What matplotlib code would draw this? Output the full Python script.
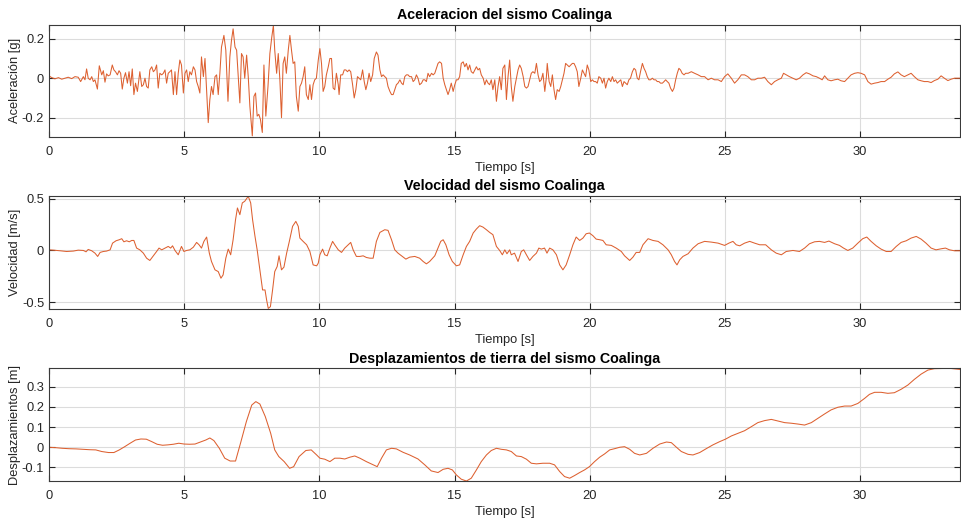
import matplotlib
matplotlib.use("Agg")
import matplotlib.pyplot as plt

plt.rcParams['font.family'] = ['Liberation Sans', 'DejaVu Sans']
plt.rcParams['font.size'] = 9
plt.rcParams['axes.unicode_minus'] = False

# Registro del sismo de Coalinga: tiempo [s] y aceleracion [g]
acc_t = [
    0.00, 0.10, 0.22, 0.35, 0.47, 0.59, 0.71, 0.84, 0.96, 1.08,
    1.17, 1.27, 1.33, 1.39, 1.45, 1.52, 1.58, 1.64, 1.70, 1.79,
    1.86, 1.95, 2.01, 2.07, 2.13, 2.19, 2.26, 2.34, 2.40, 2.46,
    2.53, 2.59, 2.65, 2.71, 2.77, 2.83, 2.90, 2.96, 3.02, 3.08,
    3.14, 3.20, 3.27,
    3.36, 3.43, 3.49, 3.55, 3.61, 3.67, 3.73, 3.80, 3.86, 3.92,
    3.98, 4.04, 4.10, 4.17, 4.23, 4.29, 4.35, 4.41, 4.47, 4.53,
    4.60, 4.66, 4.72, 4.78, 4.84, 4.90, 4.97, 5.03, 5.09, 5.15,
    5.21, 5.27, 5.34, 5.40, 5.46, 5.52, 5.58, 5.64, 5.71, 5.77,
    5.83, 5.89, 5.95, 6.01, 6.07, 6.14, 6.20, 6.26, 6.32, 6.38,
    6.47, 6.54, 6.62, 6.69, 6.75, 6.81, 6.88, 6.94, 7.00, 7.06,
    7.12, 7.18, 7.24, 7.31, 7.37, 7.43, 7.52, 7.58, 7.64, 7.70,
    7.76, 7.82, 7.89, 7.95, 8.02, 8.10, 8.17, 8.24, 8.30, 8.35,
    8.42, 8.48, 8.54, 8.60, 8.66, 8.72, 8.78, 8.85, 8.91, 8.97,
    9.03, 9.09, 9.15, 9.22, 9.28, 9.34, 9.40, 9.46, 9.52, 9.59,
    9.65, 9.71, 9.77, 9.83, 9.89, 9.96, 10.02, 10.08, 10.14, 10.20,
    10.26, 10.33, 10.39, 10.45,
    10.51, 10.57, 10.63, 10.70, 10.73, 10.79, 10.86, 10.92, 10.98, 11.04,
    11.10, 11.16, 11.23, 11.29, 11.35, 11.41, 11.47, 11.53, 11.60, 11.66,
    11.72, 11.78, 11.84, 11.90, 11.97, 12.03, 12.11, 12.17, 12.24, 12.30,
    12.36, 12.42, 12.48, 12.54, 12.61, 12.67, 12.73, 12.79, 12.85, 12.91,
    12.98, 13.04, 13.10, 13.16, 13.22, 13.28, 13.34, 13.41, 13.47, 13.53,
    13.59, 13.65, 13.71, 13.78, 13.84, 13.90, 13.96, 14.02, 14.08, 14.15,
    14.21, 14.27, 14.33, 14.39, 14.45, 14.52, 14.58, 14.64, 14.70, 14.76,
    14.82, 14.88, 14.95, 15.01, 15.07, 15.13, 15.19, 15.25, 15.32, 15.38,
    15.44, 15.50, 15.56, 15.62, 15.69, 15.75, 15.81, 15.87, 15.93, 15.99,
    16.06, 16.12, 16.18, 16.24, 16.30, 16.36, 16.42, 16.49, 16.55, 16.61,
    16.67, 16.73, 16.79, 16.86, 16.92, 16.98, 17.04, 17.10, 17.16, 17.23,
    17.29, 17.35, 17.41,
    17.47, 17.54, 17.60, 17.66, 17.72, 17.78, 17.84, 17.90, 17.97, 18.03,
    18.09, 18.15, 18.21, 18.27, 18.34, 18.40, 18.43, 18.50, 18.56, 18.62,
    18.68, 18.74, 18.80, 18.87, 18.93, 18.99, 19.05, 19.11, 19.17, 19.24,
    19.30, 19.36, 19.42, 19.48, 19.54, 19.60, 19.67, 19.73, 19.79, 19.85,
    19.91, 19.97, 20.04, 20.10, 20.16, 20.22, 20.28, 20.34, 20.41, 20.47,
    20.53, 20.59, 20.65, 20.71, 20.78, 20.84, 20.90, 20.96, 21.02, 21.08,
    21.15, 21.21, 21.27, 21.33, 21.39, 21.45, 21.51, 21.58, 21.64, 21.70,
    21.76, 21.82, 21.88, 21.95, 22.01, 22.07, 22.13, 22.19, 22.25, 22.32,
    22.38, 22.44, 22.50, 22.56, 22.62, 22.69, 22.75, 22.81, 22.87, 22.93,
    22.99, 23.06, 23.12, 23.18, 23.24, 23.30, 23.36, 23.42, 23.49, 23.55,
    23.64, 23.76, 23.88, 24.01, 24.13, 24.25, 24.38, 24.50, 24.62, 24.75,
    24.87, 24.99, 25.11, 25.24, 25.36, 25.48, 25.61, 25.73, 25.85, 25.98,
    26.10, 26.22, 26.35, 26.47, 26.59, 26.72, 26.84, 26.96, 27.09, 27.17,
    27.27, 27.39, 27.52, 27.64, 27.76, 27.89, 28.01, 28.13, 28.26, 28.38,
    28.50, 28.60, 28.69, 28.81, 28.93, 29.06, 29.18, 29.30, 29.43, 29.55,
    29.67, 29.80, 29.92, 30.04, 30.17, 30.29, 30.41, 30.54, 30.66, 30.78,
    30.91, 31.03, 31.15, 31.27, 31.40, 31.52, 31.64, 31.77, 31.89, 32.01,
    32.14, 32.26, 32.38, 32.51, 32.63, 32.75, 32.88, 33.00, 33.12, 33.25,
    33.37, 33.49, 33.62, 33.70,
]
acc_g = [
    0.012, 0.003, -0.003, 0.003, -0.005, 0.0, 0.005, -0.002, 0.008, 0.005,
    -0.017, 0.008, -0.008, 0.047, 0.0, -0.008, 0.008, -0.017, -0.008, -0.055,
    0.063, 0.017, 0.038, -0.02, 0.022, 0.012, 0.017, 0.067, 0.042, 0.033,
    0.017, 0.038, 0.025, -0.055, 0.0, 0.028, -0.025, 0.033, -0.038, 0.047,
    -0.083, -0.025, -0.067,
    0.033, -0.042, -0.033, 0.0, -0.042, -0.05, 0.042, 0.058, 0.033, 0.042,
    0.067, -0.05, 0.025, 0.017, 0.025, 0.042, -0.025, 0.025, 0.033, 0.042,
    -0.083, 0.033, -0.083, 0.025, 0.092, 0.067, -0.075, 0.025, 0.042, -0.017,
    0.033, 0.017, 0.058, 0.042, -0.017, -0.042, -0.075, 0.108, 0.008, 0.1,
    -0.058, -0.225, -0.108, -0.042, -0.083, 0.008, 0.017, -0.083, 0.025, 0.158,
    0.217, 0.142, -0.117, 0.108, 0.192, 0.25, 0.158, 0.142, 0.008, -0.125,
    0.125, 0.108, 0.0, 0.117, 0.008, -0.142, -0.292, -0.092, -0.075, -0.192,
    -0.183, -0.208, -0.275, 0.067, -0.192, -0.042, 0.125, 0.208, 0.267, 0.142,
    0.025, 0.125, -0.008, -0.2, 0.075, 0.108, 0.025, 0.142, 0.217, 0.142,
    0.075, 0.083, -0.092, -0.167, -0.042, -0.025, 0.008, 0.058, -0.083, -0.108,
    -0.033, -0.108, -0.033, -0.008, 0.0, 0.092, 0.15, 0.075, -0.067, -0.042,
    0.017, 0.058, 0.1, 0.1,
    -0.05, -0.058, 0.025, -0.033, -0.083, 0.017, 0.017, 0.042, 0.042, 0.033,
    0.042, 0.033, -0.033, -0.1, -0.058, 0.008, 0.0, -0.008, 0.042, -0.017,
    -0.058, -0.025, 0.025, -0.017, 0.017, 0.1, 0.133, 0.117, 0.042, 0.008,
    0.017, 0.008, 0.0, -0.042, -0.067, -0.083, -0.083, -0.058, -0.033, -0.025,
    -0.008, -0.025, -0.033, 0.008, 0.017, 0.017, 0.008, 0.008, -0.017, -0.008,
    0.017, 0.0, -0.033, -0.025, -0.008, -0.008, -0.017, 0.025, 0.008, 0.025,
    0.017, 0.025, 0.05, 0.075, 0.083, 0.075, 0.0, -0.033, -0.058, -0.083,
    -0.058, -0.025, -0.067, -0.033, -0.008, -0.008, 0.008, 0.075, 0.083, 0.058,
    0.075, 0.042, 0.067, 0.033, 0.025, 0.042, 0.058, 0.042, 0.05, 0.017,
    0.0, -0.033, -0.008, -0.025, -0.033, -0.008, -0.058, -0.008, -0.117, -0.042,
    0.008, -0.058, 0.05, 0.067, -0.108, 0.008, 0.092, -0.042, -0.117, -0.042,
    0.0, 0.042, 0.067,
    0.05, 0.008, -0.042, -0.05, -0.042, -0.008, 0.025, 0.033, 0.025, 0.075,
    0.017, -0.017, -0.008, 0.025, -0.067, 0.008, 0.075, -0.017, -0.042, 0.017,
    -0.058, -0.108, -0.058, -0.067, -0.042, -0.008, 0.025, 0.075, 0.067, 0.058,
    0.067, 0.075, 0.075, 0.058, 0.033, -0.042, 0.0, 0.042, 0.025, 0.008,
    0.067, 0.042, -0.017, -0.008, -0.017, -0.017, -0.025, 0.008, 0.0, -0.025,
    0.0, -0.05, -0.017, 0.0, -0.017, 0.008, -0.017, -0.008, -0.025, -0.017,
    -0.008, -0.042, -0.017, -0.025, -0.033, -0.008, 0.0, 0.033, 0.05, 0.042,
    0.0, -0.008, 0.033, 0.075, 0.05, 0.033, 0.008, -0.008, -0.008, 0.0,
    -0.008, -0.008, -0.017, -0.017, -0.025, -0.025, -0.017, -0.008, -0.017, -0.025,
    -0.05, -0.067, -0.05, -0.008, 0.025, 0.05, 0.042, 0.025, 0.017, 0.025,
    0.025, 0.033, 0.025, 0.017, 0.008, 0.008, -0.008, 0.0, -0.008, -0.008,
    -0.017, 0.008, 0.022, 0.0, -0.025, -0.008, 0.017, 0.017, 0.008, -0.008,
    -0.008, 0.0, 0.0, 0.005, -0.017, -0.033, -0.017, -0.008, 0.0, 0.025,
    0.017, 0.008, 0.0, -0.008, 0.0, 0.017, 0.028, 0.022, 0.012, 0.008,
    0.0, -0.008, 0.012, -0.008, -0.013, -0.008, -0.005, -0.013, -0.017, 0.0,
    0.017, 0.025, 0.028, 0.025, 0.017, -0.017, -0.03, -0.025, -0.022, -0.017,
    -0.017, -0.005, 0.005, 0.022, 0.032, 0.017, 0.008, 0.017, 0.025, 0.008,
    -0.008, -0.013, -0.017, -0.017, -0.022, -0.012, -0.005, 0.012, 0.0, -0.012,
    -0.005, 0.0, 0.0, 0.0,
]

# Velocidad [m/s]
vel_t = [
    0.00, 0.16, 0.41, 0.65, 0.90, 1.08, 1.27, 1.37, 1.45, 1.58,
    1.70, 1.80, 1.89, 2.01, 2.13, 2.26, 2.35, 2.48, 2.60, 2.69,
    2.77, 2.87, 2.97, 3.06, 3.14, 3.24, 3.36, 3.49, 3.61, 3.73,
    3.86, 3.98, 4.07, 4.17, 4.29, 4.41, 4.50, 4.57, 4.66, 4.78,
    4.90, 4.99, 5.09, 5.21, 5.34, 5.46, 5.55, 5.64, 5.73, 5.83,
    5.93, 6.01, 6.14, 6.26, 6.36, 6.44, 6.54, 6.63, 6.72, 6.81,
    6.90, 6.97, 7.06, 7.15, 7.24, 7.37, 7.46, 7.53, 7.62, 7.70,
    7.80, 7.90, 7.99, 8.05, 8.11, 8.19, 8.27, 8.35, 8.44, 8.51,
    8.60, 8.69, 8.79, 8.89, 9.01, 9.13, 9.22, 9.28, 9.40, 9.53,
    9.65, 9.77, 9.90, 9.96,
    10.02, 10.12, 10.20, 10.29, 10.39, 10.49, 10.57, 10.70, 10.82, 10.94,
    11.07, 11.16, 11.25, 11.37, 11.50, 11.62, 11.74, 11.87, 11.99, 12.11,
    12.24, 12.42, 12.54, 12.67, 12.79, 12.91, 13.04, 13.20, 13.34, 13.53,
    13.71, 13.84, 13.96, 14.08, 14.27, 14.39, 14.49, 14.58, 14.68, 14.80,
    14.92, 15.07, 15.19, 15.32, 15.44, 15.56, 15.69, 15.81, 15.93, 16.05,
    16.18, 16.30, 16.42, 16.55, 16.67, 16.77, 16.86, 16.94, 17.04, 17.10,
    17.22, 17.35, 17.47, 17.56, 17.66, 17.78, 17.90, 18.03, 18.12, 18.21,
    18.33, 18.42, 18.52, 18.64, 18.77, 18.89, 19.01, 19.13, 19.26, 19.38,
    19.50, 19.63, 19.75, 19.87, 19.99, 20.12, 20.24, 20.37, 20.49, 20.61,
    20.80, 20.98, 21.17, 21.29, 21.48, 21.60, 21.72,
    21.85, 21.97, 22.16, 22.34, 22.53, 22.71, 22.90, 23.02, 23.14, 23.23,
    23.33, 23.45, 23.64, 23.82, 24.01, 24.25, 24.50, 24.75, 24.99, 25.15,
    25.30, 25.42, 25.55, 25.73, 25.92, 26.10, 26.29, 26.51, 26.72, 26.90,
    27.09, 27.27, 27.52, 27.76, 27.95, 28.13, 28.32, 28.50, 28.69, 28.85,
    29.06, 29.24, 29.39, 29.55, 29.73, 29.92, 30.10, 30.25, 30.41, 30.60,
    30.78, 30.97, 31.15, 31.34, 31.52, 31.71, 31.89, 32.08, 32.26, 32.44,
    32.63, 32.81, 33.00, 33.16, 33.31, 33.49, 33.70,
]
vel_ms = [
    0.006, 0.003, -0.003, -0.01, -0.006, 0.003, 0.0, -0.013, 0.01, -0.003,
    -0.026, -0.058, -0.019, -0.01, -0.006, 0.006, 0.071, 0.094, 0.104, 0.114,
    0.084, 0.094, 0.084, 0.097, 0.097, 0.023, 0.006, -0.026, -0.075, -0.097,
    -0.052, -0.01, 0.023, 0.006, 0.023, 0.039, 0.023, 0.045, 0.0, -0.042,
    0.039, -0.01, 0.0, 0.006, 0.032, 0.078, 0.055, 0.023, 0.088, 0.13,
    -0.026, -0.107, -0.188, -0.205, -0.269, -0.237, -0.075, 0.013, -0.042, 0.104,
    0.299, 0.412, 0.347, 0.461, 0.477, 0.525, 0.461, 0.299, 0.136, 0.006,
    -0.188, -0.383, -0.383, -0.481, -0.562, -0.545, -0.383, -0.205, -0.156, -0.052,
    -0.188, -0.162, -0.026, 0.088, 0.234, 0.282, 0.234, 0.12, 0.088, 0.055,
    -0.01, -0.14, -0.149, -0.123,
    -0.042, 0.013, -0.042, -0.052, 0.023, 0.088, 0.055, 0.006, -0.019, 0.023,
    0.055, 0.078, 0.006, -0.058, -0.058, -0.052, -0.068, -0.075, -0.075, 0.088,
    0.175, 0.201, 0.195, 0.104, 0.006, -0.026, -0.052, -0.084, -0.065, -0.058,
    -0.075, -0.107, -0.13, -0.107, -0.052, 0.023, 0.088, 0.104, 0.055, -0.042,
    -0.107, -0.149, -0.14, -0.042, 0.039, 0.088, 0.169, 0.208, 0.24, 0.227,
    0.201, 0.175, 0.153, 0.039, 0.0, -0.042, 0.006, -0.032, 0.006, -0.042,
    -0.026, -0.107, -0.01, 0.006, -0.042, -0.097, -0.058, -0.026, 0.023, 0.013,
    0.023, -0.026, 0.023, 0.006, -0.042, -0.14, -0.188, -0.14, -0.042, 0.055,
    0.13, 0.097, 0.12, 0.162, 0.169, 0.143, 0.11, 0.104, 0.097, 0.055,
    0.049, 0.023, -0.01, -0.052, -0.097, -0.065, -0.019,
    -0.019, 0.055, 0.114, 0.097, 0.088, 0.055, 0.006, -0.042, -0.107, -0.14,
    -0.091, -0.058, -0.032, 0.023, 0.065, 0.088, 0.081, 0.071, 0.049, 0.071,
    0.088, 0.055, 0.045, 0.071, 0.088, 0.071, 0.055, 0.055, 0.006, -0.026,
    -0.042, -0.01, 0.0, -0.01, 0.023, 0.065, 0.084, 0.088, 0.078, 0.091,
    0.065, 0.049, 0.023, 0.0, 0.023, 0.071, 0.114, 0.13, 0.088, 0.045,
    0.013, -0.01, -0.01, 0.039, 0.078, 0.094, 0.12, 0.136, 0.11, 0.071,
    0.023, 0.006, 0.016, 0.023, 0.006, -0.003, -0.003,
]

# Desplazamiento del terreno [m]
dis_t = [
    0.00, 0.25, 0.49, 0.74, 1.00, 1.25, 1.50, 1.73, 1.95, 2.20,
    2.40, 2.60, 2.80, 3.00, 3.20, 3.40, 3.60, 3.80, 4.00, 4.20,
    4.40, 4.60, 4.80, 5.00, 5.20, 5.40, 5.60, 5.80, 5.95, 6.10,
    6.30, 6.50, 6.70, 6.90, 7.10, 7.30, 7.50, 7.65, 7.80, 8.00,
    8.20, 8.35, 8.50, 8.70, 8.90, 9.05, 9.25, 9.50, 9.70, 9.90,
    10.02, 10.20, 10.39, 10.57, 10.76, 10.94, 11.13, 11.31, 11.50, 11.74,
    11.99, 12.14, 12.30, 12.48, 12.67, 12.85, 13.10, 13.34, 13.65, 13.90,
    14.14, 14.39, 14.58, 14.76, 14.92, 15.07, 15.25, 15.44, 15.62, 15.81,
    15.99, 16.18, 16.36, 16.55, 16.73, 16.92, 17.10, 17.29, 17.47, 17.66,
    17.84, 18.03, 18.27, 18.52, 18.70, 18.89, 19.07, 19.26, 19.44, 19.63,
    19.81, 19.99, 20.18, 20.37, 20.55, 20.74, 20.92, 21.11, 21.29, 21.48,
    21.66,
    21.85, 22.10, 22.34, 22.59, 22.84, 23.02, 23.21, 23.39, 23.64, 23.82,
    24.07, 24.31, 24.56, 24.81, 25.02, 25.24, 25.48, 25.73, 25.98, 26.22,
    26.47, 26.72, 26.96, 27.21, 27.46, 27.70, 27.95, 28.20, 28.44, 28.69,
    28.93, 29.18, 29.43, 29.67, 29.92, 30.17, 30.35, 30.54, 30.78, 31.03,
    31.27, 31.52, 31.77, 32.01, 32.26, 32.51, 32.75, 33.06, 33.37, 33.70,
]
dis_m = [
    0.0, -0.002, -0.005, -0.007, -0.008, -0.01, -0.012, -0.013, -0.021, -0.026,
    -0.026, -0.013, 0.003, 0.02, 0.036, 0.041, 0.04, 0.028, 0.015, 0.01,
    0.012, 0.015, 0.02, 0.016, 0.015, 0.016, 0.026, 0.036, 0.046, 0.033,
    -0.005, -0.054, -0.068, -0.068, 0.028, 0.127, 0.209, 0.226, 0.214, 0.152,
    0.069, -0.013, -0.046, -0.071, -0.104, -0.096, -0.046, -0.016, -0.013, -0.038,
    -0.054, -0.059, -0.071, -0.054, -0.054, -0.058, -0.049, -0.043, -0.054, -0.071,
    -0.087, -0.096, -0.054, -0.013, -0.005, -0.008, -0.025, -0.038, -0.058, -0.087,
    -0.117, -0.125, -0.109, -0.104, -0.112, -0.137, -0.158, -0.167, -0.153, -0.112,
    -0.071, -0.038, -0.016, -0.005, -0.01, -0.013, -0.021, -0.043, -0.046, -0.059,
    -0.079, -0.082, -0.079, -0.079, -0.087, -0.12, -0.145, -0.153, -0.14, -0.125,
    -0.112, -0.096, -0.071, -0.049, -0.033, -0.013, -0.007, 0.0, 0.003, -0.01,
    -0.03,
    -0.038, -0.03, -0.005, 0.016, 0.026, 0.023, 0.0, -0.021, -0.035, -0.038,
    -0.026, -0.007, 0.012, 0.028, 0.04, 0.056, 0.069, 0.082, 0.102, 0.122,
    0.132, 0.138, 0.13, 0.122, 0.119, 0.115, 0.11, 0.122, 0.143, 0.165,
    0.185, 0.198, 0.204, 0.204, 0.217, 0.242, 0.262, 0.272, 0.272, 0.267,
    0.27, 0.287, 0.308, 0.336, 0.362, 0.382, 0.389, 0.39, 0.39, 0.385,
]

titles = ['Aceleracion del sismo Coalinga',
          'Velocidad del sismo Coalinga',
          'Desplazamientos de tierra del sismo Coalinga']
ylabels = ['Aceleración [g]', 'Velocidad [m/s]', 'Desplazamientos [m]']
yticks = [[-0.2, 0, 0.2], [-0.5, 0, 0.5], [-0.1, 0, 0.1, 0.2, 0.3]]
yticklabels = [['-0.2', '0', '0.2'], ['-0.5', '0', '0.5'],
               ['-0.1', '0', '0.1', '0.2', '0.3']]
ylims = [(-0.298, 0.272), (-0.568, 0.528), (-0.167, 0.391)]
xticks = [0, 5, 10, 15, 20, 25, 30]

series = [(acc_t, acc_g), (vel_t, vel_ms), (dis_t, dis_m)]
boxes = [[0.051, 0.7375, 0.948, 0.2155],
         [0.051, 0.408, 0.948, 0.2165],
         [0.051, 0.0785, 0.948, 0.216]]

fig = plt.figure(figsize=(9.61, 5.22), dpi=100)
for i in range(3):
    ax = fig.add_axes(boxes[i])
    t, y = series[i]
    ax.plot(t, y, color='#DD6030', lw=0.75)
    ax.set_xlim(0, 33.7)
    ax.set_ylim(*ylims[i])
    ax.set_xticks(xticks)
    ax.set_xticklabels([str(v) for v in xticks])
    ax.set_yticks(yticks[i])
    ax.set_yticklabels(yticklabels[i])
    ax.grid(True, color='#dcdcdc', lw=0.8)
    ax.set_axisbelow(True)
    ax.tick_params(direction='in', top=True, right=True, length=4,
                   width=0.8, colors='#262626', labelsize=9.3)
    ax.tick_params(axis='x', pad=6.5)
    for s in ax.spines.values():
        s.set_color('#3a3a3a')
        s.set_linewidth(0.8)
    ax.set_title(titles[i], fontsize=10.3, fontweight='bold', pad=4)
    ax.set_xlabel('Tiempo [s]', fontsize=9.3, color='#262626', labelpad=2.5)
    ax.set_ylabel(ylabels[i], fontsize=9.3, color='#262626')
    ax.yaxis.set_label_coords(-0.031, 0.5)

fig.savefig('out.png', dpi=100)
